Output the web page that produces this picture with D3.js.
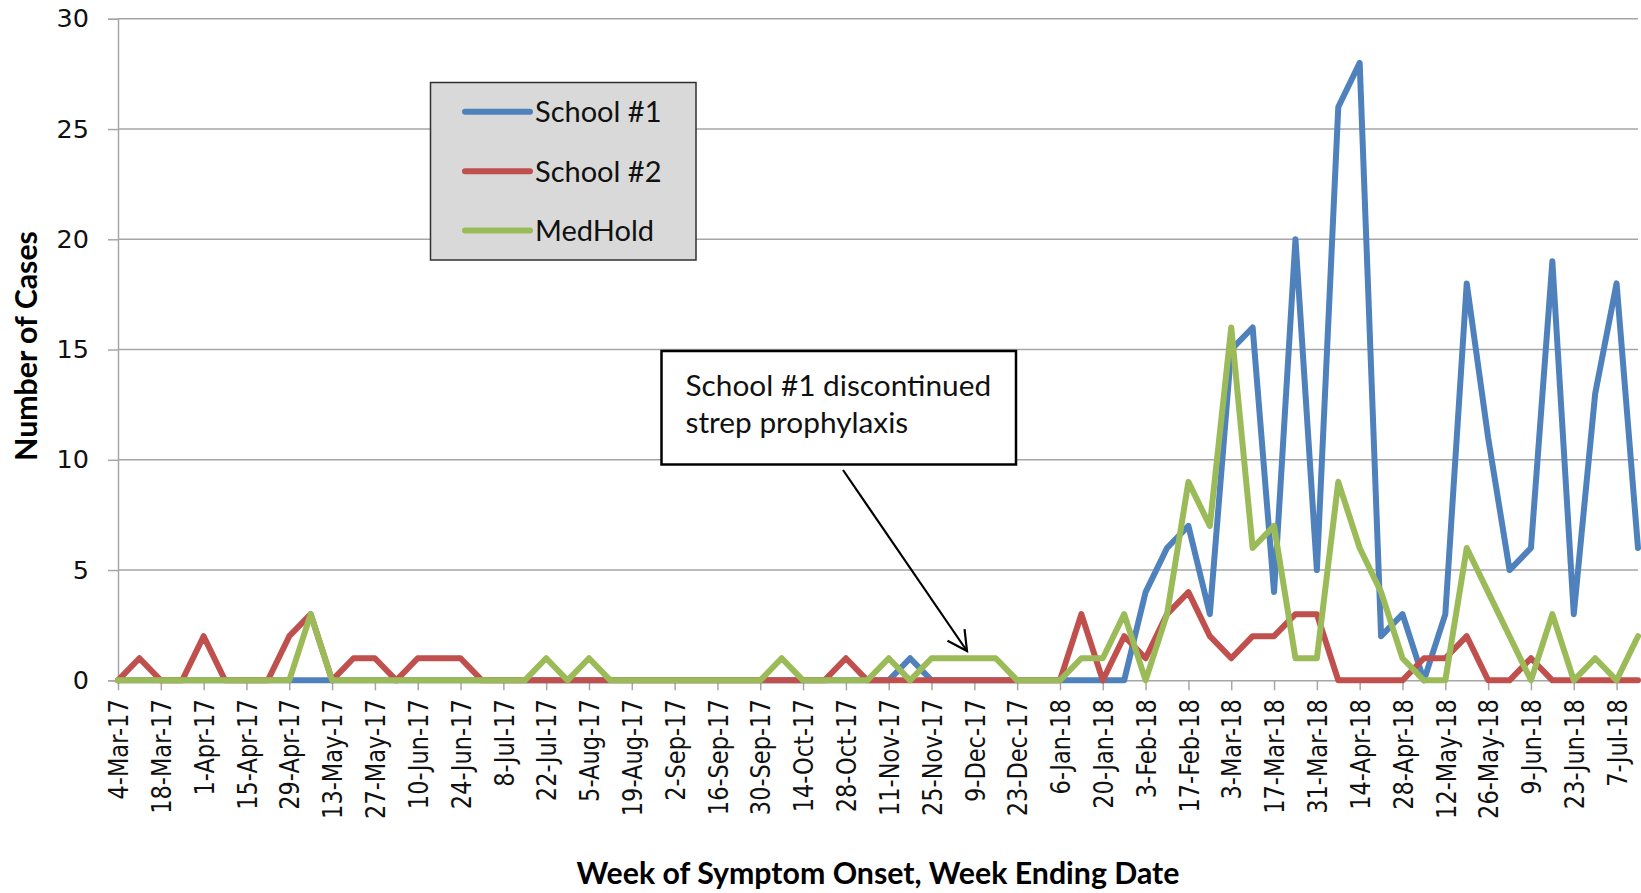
<!DOCTYPE html>
<html>
<head>
<meta charset="utf-8">
<script src="https://cdn.jsdelivr.net/npm/d3@7"></script>
<style>
  html, body { margin: 0; padding: 0; background: #fff; }
  svg { display: block; }
</style>
</head>
<body>
<svg id="chart" width="1641" height="893"></svg>
<script>
// ---------------- DATA ----------------
const categories = [
  "4-Mar-17","11-Mar-17","18-Mar-17","25-Mar-17","1-Apr-17","8-Apr-17","15-Apr-17","22-Apr-17",
  "29-Apr-17","6-May-17","13-May-17","20-May-17","27-May-17","3-Jun-17","10-Jun-17","17-Jun-17",
  "24-Jun-17","1-Jul-17","8-Jul-17","15-Jul-17","22-Jul-17","29-Jul-17","5-Aug-17","12-Aug-17",
  "19-Aug-17","26-Aug-17","2-Sep-17","9-Sep-17","16-Sep-17","23-Sep-17","30-Sep-17","7-Oct-17",
  "14-Oct-17","21-Oct-17","28-Oct-17","4-Nov-17","11-Nov-17","18-Nov-17","25-Nov-17","2-Dec-17",
  "9-Dec-17","16-Dec-17","23-Dec-17","30-Dec-17","6-Jan-18","13-Jan-18","20-Jan-18","27-Jan-18",
  "3-Feb-18","10-Feb-18","17-Feb-18","24-Feb-18","3-Mar-18","10-Mar-18","17-Mar-18","24-Mar-18",
  "31-Mar-18","7-Apr-18","14-Apr-18","21-Apr-18","28-Apr-18","5-May-18","12-May-18","19-May-18",
  "26-May-18","2-Jun-18","9-Jun-18","16-Jun-18","23-Jun-18","30-Jun-18","7-Jul-18","14-Jul-18"
];

const tickLabels = [
  "4-Mar-17","18-Mar-17","1-Apr-17","15-Apr-17","29-Apr-17","13-May-17","27-May-17","10-Jun-17",
  "24-Jun-17","8-Jul-17","22-Jul-17","5-Aug-17","19-Aug-17","2-Sep-17","16-Sep-17","30-Sep-17",
  "14-Oct-17","28-Oct-17","11-Nov-17","25-Nov-17","9-Dec-17","23-Dec-17","6-Jan-18","20-Jan-18",
  "3-Feb-18","17-Feb-18","3-Mar-18","17-Mar-18","31-Mar-18","14-Apr-18","28-Apr-18","12-May-18",
  "26-May-18","9-Jun-18","23-Jun-18","7-Jul-18"
];

const yTicks = [0, 5, 10, 15, 20, 25, 30];

const school1 = [
  0,0,0,0,0,0,0,0, 0,0,0,0,0,0,0,0,
  0,0,0,0,0,0,0,0, 0,0,0,0,0,0,0,0,
  0,0,0,0,0,1,0,0, 0,0,0,0,0,0,0,0,
  4,6,7,3,15,16,4,20, 5,26,28,2,3,0,3,18,
  11,5,6,19,3,13,18,6
];

const school2 = [
  0,1,0,0,2,0,0,0, 2,3,0,1,1,0,1,1,
  1,0,0,0,0,0,0,0, 0,0,0,0,0,0,0,0,
  0,0,1,0,0,0,0,0, 0,0,0,0,0,3,0,2,
  1,3,4,2,1,2,2,3, 3,0,0,0,0,1,1,2,
  0,0,1,0,0,0,0,0
];

const medHold = [
  0,0,0,0,0,0,0,0, 0,3,0,0,0,0,0,0,
  0,0,0,0,1,0,1,0, 0,0,0,0,0,0,0,1,
  0,0,0,0,1,0,1,1, 1,1,0,0,0,1,1,3,
  0,3,9,7,16,6,7,1, 1,9,6,4,1,0,0,6,
  4,2,0,3,0,1,0,2
];

const seriesNames = ["School #1", "School #2", "MedHold"];
const seriesColors = ["#4F81BD", "#C0504D", "#9BBB59"];
const annotationLines = ["School #1 discontinued", "strep prophylaxis"];
const xTitle = "Week of Symptom Onset, Week Ending Date";
const yTitle = "Number of Cases";

// ---------------- CHART ----------------
const svg = d3.select("#chart");
svg.append("rect").attr("width", 1641).attr("height", 893).attr("fill", "#fff");

const plotLeft = 118, plotRight = 1638, plotTop = 18.8, plotBottom = 680.3;

const x = d3.scalePoint().domain(categories).range([plotLeft, plotRight]);
const y = d3.scaleLinear().domain([0, 30]).range([plotBottom, plotTop]);

const gridColor = "#A6A6A6";

// gridlines
svg.append("g")
  .selectAll("line")
  .data(yTicks.filter(v => v > 0))
  .join("line")
  .attr("x1", plotLeft).attr("x2", plotRight)
  .attr("y1", d => y(d)).attr("y2", d => y(d))
  .attr("stroke", gridColor).attr("stroke-width", 1.5);

// y axis
const yAxis = svg.append("g")
  .attr("transform", `translate(${plotLeft},0)`)
  .call(d3.axisLeft(y).tickValues(yTicks).tickSize(10).tickPadding(19).tickFormat(d3.format("d")));
yAxis.select(".domain").attr("stroke", gridColor).attr("stroke-width", 1.5);
yAxis.selectAll(".tick line").attr("stroke", gridColor).attr("stroke-width", 1.5);
yAxis.selectAll(".tick text")
  .attr("font-family", "'DejaVu Sans', Verdana, sans-serif")
  .attr("font-size", 25.5)
  .attr("fill", "#111");

// x axis
const xAxis = svg.append("g")
  .attr("transform", `translate(0,${plotBottom})`)
  .call(d3.axisBottom(x).tickValues(tickLabels).tickSize(10).tickSizeOuter(0));
xAxis.select(".domain").attr("stroke", gridColor).attr("stroke-width", 1.5);
xAxis.selectAll(".tick line").attr("stroke", gridColor).attr("stroke-width", 1.5);
xAxis.selectAll(".tick text")
  .attr("font-family", "'DejaVu Sans', Verdana, sans-serif")
  .attr("font-size", 22.5)
  .attr("fill", "#111")
  .attr("text-anchor", "end")
  .attr("transform", "rotate(-90) scale(1,1.2)")
  .attr("x", -19)
  .attr("y", 0)
  .attr("dy", "0.36em");

// lines
const seriesData = [school1, school2, medHold];
const line = d3.line()
  .x((d, i) => x(categories[i]))
  .y(d => y(d));

svg.append("g")
  .selectAll("path")
  .data(seriesData)
  .join("path")
  .attr("d", d => line(d))
  .attr("fill", "none")
  .attr("stroke", (d, i) => seriesColors[i])
  .attr("stroke-width", 6)
  .attr("stroke-linejoin", "round")
  .attr("stroke-linecap", "round");

// legend
const lg = svg.append("g");
lg.append("rect")
  .attr("x", 430.5).attr("y", 82.5).attr("width", 265.5).attr("height", 177.5)
  .attr("fill", "#D9D9D9").attr("stroke", "#303030").attr("stroke-width", 1.5);
const legendYs = [111.7, 171.2, 230.5];
seriesNames.forEach((name, i) => {
  lg.append("line")
    .attr("x1", 465).attr("x2", 530)
    .attr("y1", legendYs[i]).attr("y2", legendYs[i])
    .attr("stroke", seriesColors[i]).attr("stroke-width", 6)
    .attr("stroke-linecap", "round");
  lg.append("text")
    .attr("x", 535).attr("y", legendYs[i] + 10.5)
    .attr("font-family", "Lato, 'Open Sans', sans-serif")
    .attr("font-size", 29)
    .attr("fill", "#111")
    .text(name);
});

// annotation
const ag = svg.append("g");
ag.append("rect")
  .attr("x", 661.5).attr("y", 351).attr("width", 354.5).attr("height", 113.5)
  .attr("fill", "#fff").attr("stroke", "#000").attr("stroke-width", 2.5);
annotationLines.forEach((t, i) => {
  ag.append("text")
    .attr("x", 685.5).attr("y", 395.5 + i * 37)
    .attr("font-family", "Lato, 'Open Sans', sans-serif")
    .attr("font-size", 29.8)
    .attr("fill", "#111")
    .text(t);
});

// arrow
const tip = [967, 651], tail = [843, 470];
const ang = Math.atan2(tip[1] - tail[1], tip[0] - tail[0]);
const wing = 22, spread = 28 * Math.PI / 180;
ag.append("line")
  .attr("x1", tail[0]).attr("y1", tail[1]).attr("x2", tip[0]).attr("y2", tip[1])
  .attr("stroke", "#000").attr("stroke-width", 2.2);
ag.append("path")
  .attr("d", `M${tip[0] - wing * Math.cos(ang - spread)},${tip[1] - wing * Math.sin(ang - spread)} L${tip[0]},${tip[1]} L${tip[0] - wing * Math.cos(ang + spread)},${tip[1] - wing * Math.sin(ang + spread)}`)
  .attr("fill", "none").attr("stroke", "#000").attr("stroke-width", 2.2);

// axis titles
svg.append("text")
  .attr("x", 878).attr("y", 884)
  .attr("text-anchor", "middle")
  .attr("font-family", "Lato, 'Open Sans', sans-serif")
  .attr("font-weight", "bold")
  .attr("font-size", 30.3)
  .attr("fill", "#000")
  .text(xTitle);

svg.append("text")
  .attr("transform", "translate(37,346) rotate(-90)")
  .attr("text-anchor", "middle")
  .attr("font-family", "Lato, 'Open Sans', sans-serif")
  .attr("font-weight", "bold")
  .attr("font-size", 30.3)
  .attr("fill", "#000")
  .text(yTitle);
</script>
</body>
</html>
